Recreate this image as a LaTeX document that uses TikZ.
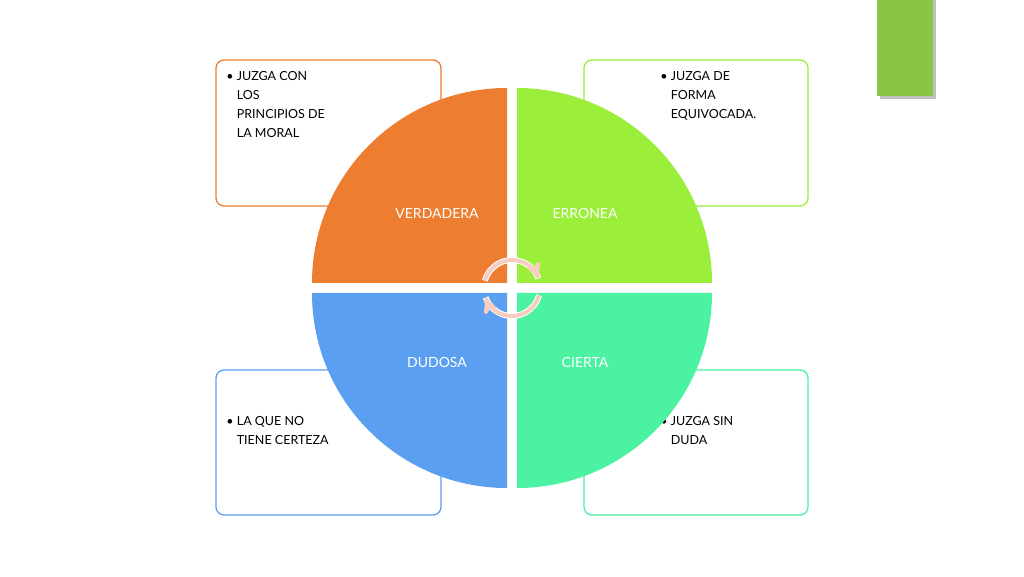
\documentclass[tikz,border=0pt]{standalone}
\usepackage{fontspec}
\setmainfont{Lato}
\usetikzlibrary{arrows}
\definecolor{qorange}{HTML}{ED7D31}
\definecolor{qgreen}{HTML}{9BEF3B}
\definecolor{qblue}{HTML}{5B9FF0}
\definecolor{qmint}{HTML}{4AF2A1}
\definecolor{qarrow}{HTML}{F6CDBF}
\begin{document}
\begin{tikzpicture}[x=1pt,y=1pt,>=stealth',thick]
          \tikzstyle{box}=[rounded corners=8pt,line width=1.3pt]
          \tikzstyle{boxtext}=[anchor=north west,align=left,font=\fontsize{12.5}{19}\selectfont,inner sep=0pt]
          \tikzstyle{quadtext}=[text=white,font=\fontsize{14}{16}\selectfont]
          \tikzstyle{cycle}=[line width=4pt,qarrow]

          \useasboundingbox (0,0) rectangle (1024,576);
          \fill[white] (0,0) rectangle (1024,576);

          % corner tab
          \fill[gray!50] (880,477) rectangle (936,576);
          \fill[qgreen!80!black!90] (877,480) rectangle (933,576);

          % outer boxes
          \draw[box,qorange] (216,370) rectangle (441,516);
          \draw[box,qgreen] (584,370) rectangle (808,516);
          \draw[box,qblue] (216,61) rectangle (441,206);
          \draw[box,qmint] (584,61) rectangle (808,206);

          \node[boxtext] (tl) at (226,505) {\textbullet~JUZGA CON\\\phantom{\textbullet~}LOS\\\phantom{\textbullet~}PRINCIPIOS DE\\\phantom{\textbullet~}LA MORAL};
          \node[boxtext] (tr) at (660,505) {\textbullet~JUZGA DE\\\phantom{\textbullet~}FORMA\\\phantom{\textbullet~}EQUIVOCADA.};
          \node[boxtext] (bl) at (226,160) {\textbullet~LA QUE NO\\\phantom{\textbullet~}TIENE CERTEZA};
          \node[boxtext] (br) at (660,160) {\textbullet~JUZGA SIN\\\phantom{\textbullet~}DUDA};

          % quadrants
          \fill[qorange] (507,293) -- ++(-195,0) arc[start angle=180,end angle=90,radius=195pt] -- cycle;
          \fill[qgreen] (517,293) -- ++(0,195) arc[start angle=90,end angle=0,radius=195pt] -- cycle;
          \fill[qblue] (507,283) -- ++(0,-195) arc[start angle=270,end angle=180,radius=195pt] -- cycle;
          \fill[qmint] (517,283) -- ++(195,0) arc[start angle=0,end angle=-90,radius=195pt] -- cycle;

          \node[quadtext] (v) at (437,363) {VERDADERA};
          \node[quadtext] (e) at (585,363) {ERRONEA};
          \node[quadtext] (d) at (437,214) {DUDOSA};
          \node[quadtext] (c) at (585,214) {CIERTA};

          % cycle arrows
          \coordinate (m) at (512,288);
          \draw[line width=6pt,white] ([shift={(165:28pt)}]m) arc[start angle=165,end angle=20,radius=28pt];
          \draw[cycle,->] ([shift={(165:28pt)}]m) arc[start angle=165,end angle=20,radius=28pt];
          \draw[line width=6pt,white] ([shift={(-15:28pt)}]m) arc[start angle=-15,end angle=-160,radius=28pt];
          \draw[cycle,->] ([shift={(-15:28pt)}]m) arc[start angle=-15,end angle=-160,radius=28pt];
\end{tikzpicture}
\end{document}
